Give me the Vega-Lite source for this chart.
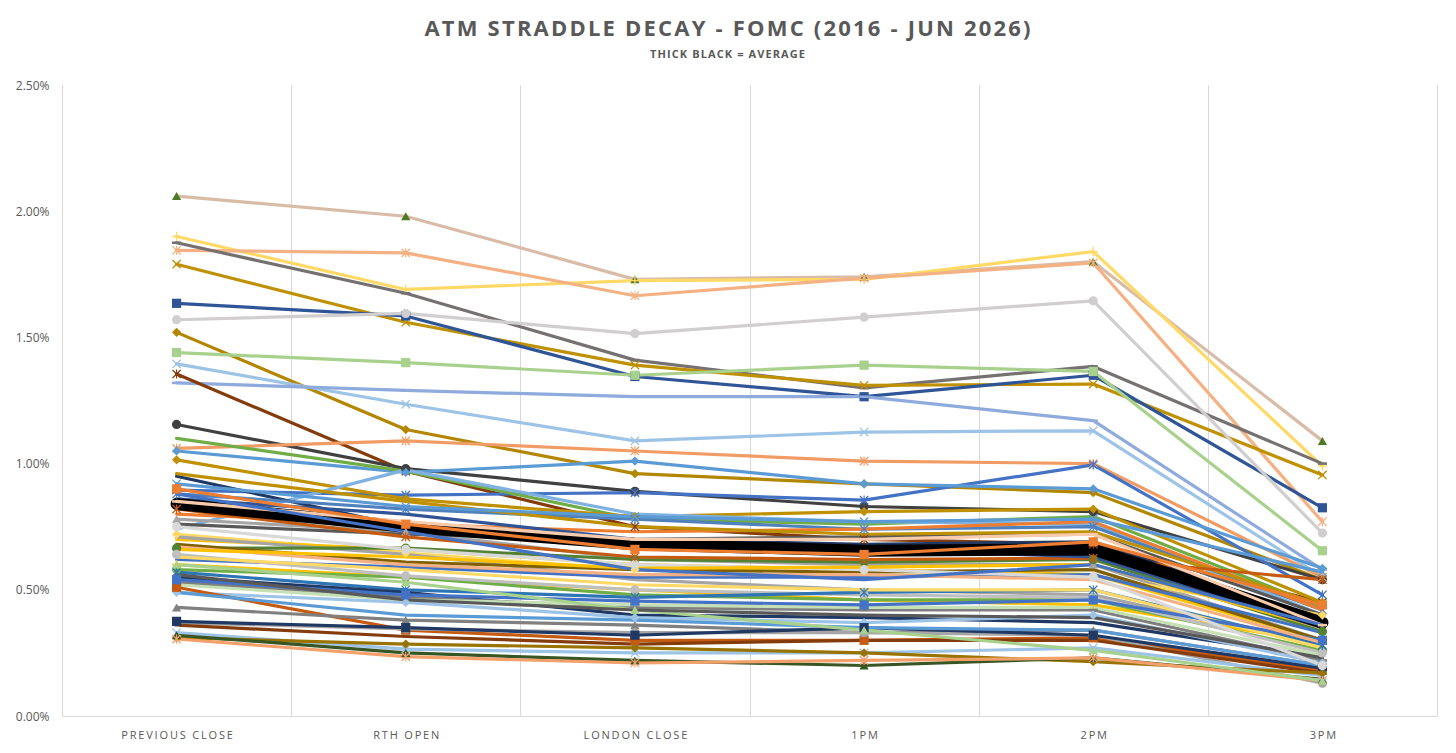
{
  "$schema": "https://vega.github.io/schema/vega-lite/v6.json",
  "width": 1375,
  "height": 631,
  "autosize": "none",
  "padding": {"left": 62, "top": 85, "right": 19, "bottom": 37},
  "background": "white",
  "title": {
    "text": {"expr": "join(split('ATM STRADDLE DECAY - FOMC (2016 - JUN 2026)', ''), '\u200a')"},
    "subtitle": {"expr": "join(split('THICK BLACK = AVERAGE', ''), '\u200a')"},
    "anchor": "middle",
    "dx": -22,
    "offset": 18,
    "font": "Open Sans",
    "fontSize": 22,
    "fontWeight": "bold",
    "color": "#595959",
    "subtitleFont": "Open Sans",
    "subtitleFontSize": 11,
    "subtitleFontWeight": "bold",
    "subtitleColor": "#595959",
    "subtitlePadding": 8
  },
  "data": {
    "values": [
      {"s": "S01", "t": "PREVIOUS CLOSE", "v": 2.06}, {"s": "S01", "t": "RTH OPEN", "v": 1.98}, {"s": "S01", "t": "LONDON CLOSE", "v": 1.73}, {"s": "S01", "t": "1PM", "v": 1.74}, {"s": "S01", "t": "2PM", "v": 1.80}, {"s": "S01", "t": "3PM", "v": 1.09},
      {"s": "S02", "t": "PREVIOUS CLOSE", "v": 1.90}, {"s": "S02", "t": "RTH OPEN", "v": 1.69}, {"s": "S02", "t": "LONDON CLOSE", "v": 1.725}, {"s": "S02", "t": "1PM", "v": 1.73}, {"s": "S02", "t": "2PM", "v": 1.84}, {"s": "S02", "t": "3PM", "v": 0.99},
      {"s": "S03", "t": "PREVIOUS CLOSE", "v": 1.845}, {"s": "S03", "t": "RTH OPEN", "v": 1.835}, {"s": "S03", "t": "LONDON CLOSE", "v": 1.665}, {"s": "S03", "t": "1PM", "v": 1.735}, {"s": "S03", "t": "2PM", "v": 1.795}, {"s": "S03", "t": "3PM", "v": 0.77},
      {"s": "S04", "t": "PREVIOUS CLOSE", "v": 1.875}, {"s": "S04", "t": "RTH OPEN", "v": 1.675}, {"s": "S04", "t": "LONDON CLOSE", "v": 1.41}, {"s": "S04", "t": "1PM", "v": 1.30}, {"s": "S04", "t": "2PM", "v": 1.385}, {"s": "S04", "t": "3PM", "v": 1.00},
      {"s": "S05", "t": "PREVIOUS CLOSE", "v": 1.79}, {"s": "S05", "t": "RTH OPEN", "v": 1.56}, {"s": "S05", "t": "LONDON CLOSE", "v": 1.39}, {"s": "S05", "t": "1PM", "v": 1.31}, {"s": "S05", "t": "2PM", "v": 1.315}, {"s": "S05", "t": "3PM", "v": 0.955},
      {"s": "S06", "t": "PREVIOUS CLOSE", "v": 1.635}, {"s": "S06", "t": "RTH OPEN", "v": 1.585}, {"s": "S06", "t": "LONDON CLOSE", "v": 1.345}, {"s": "S06", "t": "1PM", "v": 1.265}, {"s": "S06", "t": "2PM", "v": 1.35}, {"s": "S06", "t": "3PM", "v": 0.825},
      {"s": "S07", "t": "PREVIOUS CLOSE", "v": 1.57}, {"s": "S07", "t": "RTH OPEN", "v": 1.595}, {"s": "S07", "t": "LONDON CLOSE", "v": 1.515}, {"s": "S07", "t": "1PM", "v": 1.58}, {"s": "S07", "t": "2PM", "v": 1.645}, {"s": "S07", "t": "3PM", "v": 0.725},
      {"s": "S08", "t": "PREVIOUS CLOSE", "v": 1.52}, {"s": "S08", "t": "RTH OPEN", "v": 1.135}, {"s": "S08", "t": "LONDON CLOSE", "v": 0.96}, {"s": "S08", "t": "1PM", "v": 0.92}, {"s": "S08", "t": "2PM", "v": 0.885}, {"s": "S08", "t": "3PM", "v": 0.54},
      {"s": "S09", "t": "PREVIOUS CLOSE", "v": 1.44}, {"s": "S09", "t": "RTH OPEN", "v": 1.40}, {"s": "S09", "t": "LONDON CLOSE", "v": 1.35}, {"s": "S09", "t": "1PM", "v": 1.39}, {"s": "S09", "t": "2PM", "v": 1.365}, {"s": "S09", "t": "3PM", "v": 0.655},
      {"s": "S10", "t": "PREVIOUS CLOSE", "v": 1.395}, {"s": "S10", "t": "RTH OPEN", "v": 1.235}, {"s": "S10", "t": "LONDON CLOSE", "v": 1.09}, {"s": "S10", "t": "1PM", "v": 1.125}, {"s": "S10", "t": "2PM", "v": 1.13}, {"s": "S10", "t": "3PM", "v": 0.55},
      {"s": "S11", "t": "PREVIOUS CLOSE", "v": 1.32}, {"s": "S11", "t": "RTH OPEN", "v": 1.29}, {"s": "S11", "t": "LONDON CLOSE", "v": 1.265}, {"s": "S11", "t": "1PM", "v": 1.265}, {"s": "S11", "t": "2PM", "v": 1.17}, {"s": "S11", "t": "3PM", "v": 0.58},
      {"s": "S12", "t": "PREVIOUS CLOSE", "v": 1.355}, {"s": "S12", "t": "RTH OPEN", "v": 0.97}, {"s": "S12", "t": "LONDON CLOSE", "v": 0.75}, {"s": "S12", "t": "1PM", "v": 0.70}, {"s": "S12", "t": "2PM", "v": 0.68}, {"s": "S12", "t": "3PM", "v": 0.45},
      {"s": "S13", "t": "PREVIOUS CLOSE", "v": 1.155}, {"s": "S13", "t": "RTH OPEN", "v": 0.98}, {"s": "S13", "t": "LONDON CLOSE", "v": 0.89}, {"s": "S13", "t": "1PM", "v": 0.83}, {"s": "S13", "t": "2PM", "v": 0.81}, {"s": "S13", "t": "3PM", "v": 0.54},
      {"s": "S14", "t": "PREVIOUS CLOSE", "v": 1.06}, {"s": "S14", "t": "RTH OPEN", "v": 1.09}, {"s": "S14", "t": "LONDON CLOSE", "v": 1.05}, {"s": "S14", "t": "1PM", "v": 1.01}, {"s": "S14", "t": "2PM", "v": 1.00}, {"s": "S14", "t": "3PM", "v": 0.55},
      {"s": "S15", "t": "PREVIOUS CLOSE", "v": 0.895}, {"s": "S15", "t": "RTH OPEN", "v": 0.875}, {"s": "S15", "t": "LONDON CLOSE", "v": 0.885}, {"s": "S15", "t": "1PM", "v": 0.855}, {"s": "S15", "t": "2PM", "v": 0.995}, {"s": "S15", "t": "3PM", "v": 0.48},
      {"s": "S16", "t": "PREVIOUS CLOSE", "v": 1.05}, {"s": "S16", "t": "RTH OPEN", "v": 0.965}, {"s": "S16", "t": "LONDON CLOSE", "v": 1.01}, {"s": "S16", "t": "1PM", "v": 0.92}, {"s": "S16", "t": "2PM", "v": 0.90}, {"s": "S16", "t": "3PM", "v": 0.585},
      {"s": "S17", "t": "PREVIOUS CLOSE", "v": 1.10}, {"s": "S17", "t": "RTH OPEN", "v": 0.97}, {"s": "S17", "t": "LONDON CLOSE", "v": 0.78}, {"s": "S17", "t": "1PM", "v": 0.76}, {"s": "S17", "t": "2PM", "v": 0.79}, {"s": "S17", "t": "3PM", "v": 0.43},
      {"s": "S18", "t": "PREVIOUS CLOSE", "v": 1.015}, {"s": "S18", "t": "RTH OPEN", "v": 0.86}, {"s": "S18", "t": "LONDON CLOSE", "v": 0.79}, {"s": "S18", "t": "1PM", "v": 0.81}, {"s": "S18", "t": "2PM", "v": 0.82}, {"s": "S18", "t": "3PM", "v": 0.45},
      {"s": "S19", "t": "PREVIOUS CLOSE", "v": 0.74}, {"s": "S19", "t": "RTH OPEN", "v": 0.975}, {"s": "S19", "t": "LONDON CLOSE", "v": 0.80}, {"s": "S19", "t": "1PM", "v": 0.77}, {"s": "S19", "t": "2PM", "v": 0.76}, {"s": "S19", "t": "3PM", "v": 0.40},
      {"s": "S20", "t": "PREVIOUS CLOSE", "v": 0.95}, {"s": "S20", "t": "RTH OPEN", "v": 0.75}, {"s": "S20", "t": "LONDON CLOSE", "v": 0.70}, {"s": "S20", "t": "1PM", "v": 0.68}, {"s": "S20", "t": "2PM", "v": 0.69}, {"s": "S20", "t": "3PM", "v": 0.38},
      {"s": "S21", "t": "PREVIOUS CLOSE", "v": 0.88}, {"s": "S21", "t": "RTH OPEN", "v": 0.82}, {"s": "S21", "t": "LONDON CLOSE", "v": 0.78}, {"s": "S21", "t": "1PM", "v": 0.74}, {"s": "S21", "t": "2PM", "v": 0.75}, {"s": "S21", "t": "3PM", "v": 0.42},
      {"s": "S22", "t": "PREVIOUS CLOSE", "v": 0.78}, {"s": "S22", "t": "RTH OPEN", "v": 0.73}, {"s": "S22", "t": "LONDON CLOSE", "v": 0.62}, {"s": "S22", "t": "1PM", "v": 0.60}, {"s": "S22", "t": "2PM", "v": 0.60}, {"s": "S22", "t": "3PM", "v": 0.30},
      {"s": "S23", "t": "PREVIOUS CLOSE", "v": 0.80}, {"s": "S23", "t": "RTH OPEN", "v": 0.76}, {"s": "S23", "t": "LONDON CLOSE", "v": 0.73}, {"s": "S23", "t": "1PM", "v": 0.74}, {"s": "S23", "t": "2PM", "v": 0.77}, {"s": "S23", "t": "3PM", "v": 0.42},
      {"s": "S24", "t": "PREVIOUS CLOSE", "v": 0.76}, {"s": "S24", "t": "RTH OPEN", "v": 0.72}, {"s": "S24", "t": "LONDON CLOSE", "v": 0.70}, {"s": "S24", "t": "1PM", "v": 0.71}, {"s": "S24", "t": "2PM", "v": 0.72}, {"s": "S24", "t": "3PM", "v": 0.40},
      {"s": "S25", "t": "PREVIOUS CLOSE", "v": 0.72}, {"s": "S25", "t": "RTH OPEN", "v": 0.645}, {"s": "S25", "t": "LONDON CLOSE", "v": 0.58}, {"s": "S25", "t": "1PM", "v": 0.575}, {"s": "S25", "t": "2PM", "v": 0.555}, {"s": "S25", "t": "3PM", "v": 0.40},
      {"s": "S26", "t": "PREVIOUS CLOSE", "v": 0.70}, {"s": "S26", "t": "RTH OPEN", "v": 0.66}, {"s": "S26", "t": "LONDON CLOSE", "v": 0.60}, {"s": "S26", "t": "1PM", "v": 0.58}, {"s": "S26", "t": "2PM", "v": 0.56}, {"s": "S26", "t": "3PM", "v": 0.30},
      {"s": "S27", "t": "PREVIOUS CLOSE", "v": 0.71}, {"s": "S27", "t": "RTH OPEN", "v": 0.64}, {"s": "S27", "t": "LONDON CLOSE", "v": 0.54}, {"s": "S27", "t": "1PM", "v": 0.50}, {"s": "S27", "t": "2PM", "v": 0.48}, {"s": "S27", "t": "3PM", "v": 0.28},
      {"s": "S28", "t": "PREVIOUS CLOSE", "v": 0.665}, {"s": "S28", "t": "RTH OPEN", "v": 0.665}, {"s": "S28", "t": "LONDON CLOSE", "v": 0.62}, {"s": "S28", "t": "1PM", "v": 0.61}, {"s": "S28", "t": "2PM", "v": 0.62}, {"s": "S28", "t": "3PM", "v": 0.335},
      {"s": "S29", "t": "PREVIOUS CLOSE", "v": 0.68}, {"s": "S29", "t": "RTH OPEN", "v": 0.61}, {"s": "S29", "t": "LONDON CLOSE", "v": 0.58}, {"s": "S29", "t": "1PM", "v": 0.57}, {"s": "S29", "t": "2PM", "v": 0.58}, {"s": "S29", "t": "3PM", "v": 0.30},
      {"s": "S30", "t": "PREVIOUS CLOSE", "v": 0.60}, {"s": "S30", "t": "RTH OPEN", "v": 0.55}, {"s": "S30", "t": "LONDON CLOSE", "v": 0.50}, {"s": "S30", "t": "1PM", "v": 0.46}, {"s": "S30", "t": "2PM", "v": 0.44}, {"s": "S30", "t": "3PM", "v": 0.29},
      {"s": "S31", "t": "PREVIOUS CLOSE", "v": 0.58}, {"s": "S31", "t": "RTH OPEN", "v": 0.55}, {"s": "S31", "t": "LONDON CLOSE", "v": 0.48}, {"s": "S31", "t": "1PM", "v": 0.46}, {"s": "S31", "t": "2PM", "v": 0.46}, {"s": "S31", "t": "3PM", "v": 0.26},
      {"s": "S32", "t": "PREVIOUS CLOSE", "v": 0.62}, {"s": "S32", "t": "RTH OPEN", "v": 0.59}, {"s": "S32", "t": "LONDON CLOSE", "v": 0.55}, {"s": "S32", "t": "1PM", "v": 0.55}, {"s": "S32", "t": "2PM", "v": 0.56}, {"s": "S32", "t": "3PM", "v": 0.33},
      {"s": "S33", "t": "PREVIOUS CLOSE", "v": 0.64}, {"s": "S33", "t": "RTH OPEN", "v": 0.555}, {"s": "S33", "t": "LONDON CLOSE", "v": 0.50}, {"s": "S33", "t": "1PM", "v": 0.48}, {"s": "S33", "t": "2PM", "v": 0.47}, {"s": "S33", "t": "3PM", "v": 0.25},
      {"s": "S34", "t": "PREVIOUS CLOSE", "v": 0.57}, {"s": "S34", "t": "RTH OPEN", "v": 0.50}, {"s": "S34", "t": "LONDON CLOSE", "v": 0.47}, {"s": "S34", "t": "1PM", "v": 0.49}, {"s": "S34", "t": "2PM", "v": 0.50}, {"s": "S34", "t": "3PM", "v": 0.28},
      {"s": "S35", "t": "PREVIOUS CLOSE", "v": 0.55}, {"s": "S35", "t": "RTH OPEN", "v": 0.49}, {"s": "S35", "t": "LONDON CLOSE", "v": 0.40}, {"s": "S35", "t": "1PM", "v": 0.39}, {"s": "S35", "t": "2PM", "v": 0.37}, {"s": "S35", "t": "3PM", "v": 0.23},
      {"s": "S36", "t": "PREVIOUS CLOSE", "v": 0.53}, {"s": "S36", "t": "RTH OPEN", "v": 0.47}, {"s": "S36", "t": "LONDON CLOSE", "v": 0.43}, {"s": "S36", "t": "1PM", "v": 0.42}, {"s": "S36", "t": "2PM", "v": 0.42}, {"s": "S36", "t": "3PM", "v": 0.22},
      {"s": "S37", "t": "PREVIOUS CLOSE", "v": 0.49}, {"s": "S37", "t": "RTH OPEN", "v": 0.45}, {"s": "S37", "t": "LONDON CLOSE", "v": 0.39}, {"s": "S37", "t": "1PM", "v": 0.37}, {"s": "S37", "t": "2PM", "v": 0.40}, {"s": "S37", "t": "3PM", "v": 0.21},
      {"s": "S38", "t": "PREVIOUS CLOSE", "v": 0.52}, {"s": "S38", "t": "RTH OPEN", "v": 0.46}, {"s": "S38", "t": "LONDON CLOSE", "v": 0.44}, {"s": "S38", "t": "1PM", "v": 0.43}, {"s": "S38", "t": "2PM", "v": 0.43}, {"s": "S38", "t": "3PM", "v": 0.24},
      {"s": "S39", "t": "PREVIOUS CLOSE", "v": 0.51}, {"s": "S39", "t": "RTH OPEN", "v": 0.34}, {"s": "S39", "t": "LONDON CLOSE", "v": 0.30}, {"s": "S39", "t": "1PM", "v": 0.30}, {"s": "S39", "t": "2PM", "v": 0.31}, {"s": "S39", "t": "3PM", "v": 0.18},
      {"s": "S40", "t": "PREVIOUS CLOSE", "v": 0.43}, {"s": "S40", "t": "RTH OPEN", "v": 0.38}, {"s": "S40", "t": "LONDON CLOSE", "v": 0.36}, {"s": "S40", "t": "1PM", "v": 0.33}, {"s": "S40", "t": "2PM", "v": 0.34}, {"s": "S40", "t": "3PM", "v": 0.20},
      {"s": "S41", "t": "PREVIOUS CLOSE", "v": 0.37}, {"s": "S41", "t": "RTH OPEN", "v": 0.345}, {"s": "S41", "t": "LONDON CLOSE", "v": 0.33}, {"s": "S41", "t": "1PM", "v": 0.33}, {"s": "S41", "t": "2PM", "v": 0.32}, {"s": "S41", "t": "3PM", "v": 0.13},
      {"s": "S42", "t": "PREVIOUS CLOSE", "v": 0.375}, {"s": "S42", "t": "RTH OPEN", "v": 0.35}, {"s": "S42", "t": "LONDON CLOSE", "v": 0.32}, {"s": "S42", "t": "1PM", "v": 0.35}, {"s": "S42", "t": "2PM", "v": 0.32}, {"s": "S42", "t": "3PM", "v": 0.19},
      {"s": "S43", "t": "PREVIOUS CLOSE", "v": 0.36}, {"s": "S43", "t": "RTH OPEN", "v": 0.315}, {"s": "S43", "t": "LONDON CLOSE", "v": 0.285}, {"s": "S43", "t": "1PM", "v": 0.30}, {"s": "S43", "t": "2PM", "v": 0.30}, {"s": "S43", "t": "3PM", "v": 0.17},
      {"s": "S44", "t": "PREVIOUS CLOSE", "v": 0.33}, {"s": "S44", "t": "RTH OPEN", "v": 0.265}, {"s": "S44", "t": "LONDON CLOSE", "v": 0.25}, {"s": "S44", "t": "1PM", "v": 0.25}, {"s": "S44", "t": "2PM", "v": 0.27}, {"s": "S44", "t": "3PM", "v": 0.16},
      {"s": "S45", "t": "PREVIOUS CLOSE", "v": 0.31}, {"s": "S45", "t": "RTH OPEN", "v": 0.285}, {"s": "S45", "t": "LONDON CLOSE", "v": 0.27}, {"s": "S45", "t": "1PM", "v": 0.25}, {"s": "S45", "t": "2PM", "v": 0.215}, {"s": "S45", "t": "3PM", "v": 0.17},
      {"s": "S46", "t": "PREVIOUS CLOSE", "v": 0.32}, {"s": "S46", "t": "RTH OPEN", "v": 0.25}, {"s": "S46", "t": "LONDON CLOSE", "v": 0.22}, {"s": "S46", "t": "1PM", "v": 0.20}, {"s": "S46", "t": "2PM", "v": 0.23}, {"s": "S46", "t": "3PM", "v": 0.145},
      {"s": "S47", "t": "PREVIOUS CLOSE", "v": 0.305}, {"s": "S47", "t": "RTH OPEN", "v": 0.235}, {"s": "S47", "t": "LONDON CLOSE", "v": 0.21}, {"s": "S47", "t": "1PM", "v": 0.22}, {"s": "S47", "t": "2PM", "v": 0.23}, {"s": "S47", "t": "3PM", "v": 0.14},
      {"s": "S48", "t": "PREVIOUS CLOSE", "v": 0.49}, {"s": "S48", "t": "RTH OPEN", "v": 0.40}, {"s": "S48", "t": "LONDON CLOSE", "v": 0.38}, {"s": "S48", "t": "1PM", "v": 0.35}, {"s": "S48", "t": "2PM", "v": 0.34}, {"s": "S48", "t": "3PM", "v": 0.20},
      {"s": "S49", "t": "PREVIOUS CLOSE", "v": 0.63}, {"s": "S49", "t": "RTH OPEN", "v": 0.58}, {"s": "S49", "t": "LONDON CLOSE", "v": 0.52}, {"s": "S49", "t": "1PM", "v": 0.50}, {"s": "S49", "t": "2PM", "v": 0.50}, {"s": "S49", "t": "3PM", "v": 0.27},
      {"s": "S50", "t": "PREVIOUS CLOSE", "v": 0.54}, {"s": "S50", "t": "RTH OPEN", "v": 0.48}, {"s": "S50", "t": "LONDON CLOSE", "v": 0.455}, {"s": "S50", "t": "1PM", "v": 0.44}, {"s": "S50", "t": "2PM", "v": 0.46}, {"s": "S50", "t": "3PM", "v": 0.30},
      {"s": "S51", "t": "PREVIOUS CLOSE", "v": 0.60}, {"s": "S51", "t": "RTH OPEN", "v": 0.53}, {"s": "S51", "t": "LONDON CLOSE", "v": 0.42}, {"s": "S51", "t": "1PM", "v": 0.34}, {"s": "S51", "t": "2PM", "v": 0.26}, {"s": "S51", "t": "3PM", "v": 0.14},
      {"s": "S52", "t": "PREVIOUS CLOSE", "v": 0.56}, {"s": "S52", "t": "RTH OPEN", "v": 0.46}, {"s": "S52", "t": "LONDON CLOSE", "v": 0.42}, {"s": "S52", "t": "1PM", "v": 0.40}, {"s": "S52", "t": "2PM", "v": 0.39}, {"s": "S52", "t": "3PM", "v": 0.23},
      {"s": "S53", "t": "PREVIOUS CLOSE", "v": 0.67}, {"s": "S53", "t": "RTH OPEN", "v": 0.60}, {"s": "S53", "t": "LONDON CLOSE", "v": 0.56}, {"s": "S53", "t": "1PM", "v": 0.56}, {"s": "S53", "t": "2PM", "v": 0.54}, {"s": "S53", "t": "3PM", "v": 0.29},
      {"s": "S54", "t": "PREVIOUS CLOSE", "v": 0.75}, {"s": "S54", "t": "RTH OPEN", "v": 0.66}, {"s": "S54", "t": "LONDON CLOSE", "v": 0.60}, {"s": "S54", "t": "1PM", "v": 0.58}, {"s": "S54", "t": "2PM", "v": 0.55}, {"s": "S54", "t": "3PM", "v": 0.20},
      {"s": "S55", "t": "PREVIOUS CLOSE", "v": 0.66}, {"s": "S55", "t": "RTH OPEN", "v": 0.63}, {"s": "S55", "t": "LONDON CLOSE", "v": 0.585}, {"s": "S55", "t": "1PM", "v": 0.59}, {"s": "S55", "t": "2PM", "v": 0.60}, {"s": "S55", "t": "3PM", "v": 0.35},
      {"s": "S56", "t": "PREVIOUS CLOSE", "v": 0.96}, {"s": "S56", "t": "RTH OPEN", "v": 0.85}, {"s": "S56", "t": "LONDON CLOSE", "v": 0.75}, {"s": "S56", "t": "1PM", "v": 0.72}, {"s": "S56", "t": "2PM", "v": 0.73}, {"s": "S56", "t": "3PM", "v": 0.44},
      {"s": "S57", "t": "PREVIOUS CLOSE", "v": 0.82}, {"s": "S57", "t": "RTH OPEN", "v": 0.71}, {"s": "S57", "t": "LONDON CLOSE", "v": 0.63}, {"s": "S57", "t": "1PM", "v": 0.62}, {"s": "S57", "t": "2PM", "v": 0.625}, {"s": "S57", "t": "3PM", "v": 0.54},
      {"s": "S58", "t": "PREVIOUS CLOSE", "v": 0.86}, {"s": "S58", "t": "RTH OPEN", "v": 0.80}, {"s": "S58", "t": "LONDON CLOSE", "v": 0.70}, {"s": "S58", "t": "1PM", "v": 0.66}, {"s": "S58", "t": "2PM", "v": 0.63}, {"s": "S58", "t": "3PM", "v": 0.35},
      {"s": "Average", "t": "PREVIOUS CLOSE", "v": 0.84}, {"s": "Average", "t": "RTH OPEN", "v": 0.75}, {"s": "Average", "t": "LONDON CLOSE", "v": 0.68}, {"s": "Average", "t": "1PM", "v": 0.655}, {"s": "Average", "t": "2PM", "v": 0.66}, {"s": "Average", "t": "3PM", "v": 0.37},
      {"s": "S59", "t": "PREVIOUS CLOSE", "v": 0.85}, {"s": "S59", "t": "RTH OPEN", "v": 0.77}, {"s": "S59", "t": "LONDON CLOSE", "v": 0.70}, {"s": "S59", "t": "1PM", "v": 0.70}, {"s": "S59", "t": "2PM", "v": 0.72}, {"s": "S59", "t": "3PM", "v": 0.36},
      {"s": "S60", "t": "PREVIOUS CLOSE", "v": 0.92}, {"s": "S60", "t": "RTH OPEN", "v": 0.83}, {"s": "S60", "t": "LONDON CLOSE", "v": 0.79}, {"s": "S60", "t": "1PM", "v": 0.77}, {"s": "S60", "t": "2PM", "v": 0.78}, {"s": "S60", "t": "3PM", "v": 0.57},
      {"s": "S61", "t": "PREVIOUS CLOSE", "v": 0.90}, {"s": "S61", "t": "RTH OPEN", "v": 0.76}, {"s": "S61", "t": "LONDON CLOSE", "v": 0.66}, {"s": "S61", "t": "1PM", "v": 0.64}, {"s": "S61", "t": "2PM", "v": 0.69}, {"s": "S61", "t": "3PM", "v": 0.44},
      {"s": "S62", "t": "PREVIOUS CLOSE", "v": 0.88}, {"s": "S62", "t": "RTH OPEN", "v": 0.73}, {"s": "S62", "t": "LONDON CLOSE", "v": 0.58}, {"s": "S62", "t": "1PM", "v": 0.54}, {"s": "S62", "t": "2PM", "v": 0.60}, {"s": "S62", "t": "3PM", "v": 0.36}
    ]
  },
  "encoding": {
    "x": {
      "field": "t",
      "type": "ordinal",
      "sort": ["PREVIOUS CLOSE", "RTH OPEN", "LONDON CLOSE", "1PM", "2PM", "3PM"],
      "scale": {"type": "band", "paddingInner": 0, "paddingOuter": 0},
      "axis": {
        "title": null,
        "labelAngle": 0,
        "labelExpr": "join(split(datum.label, ''), '\u2009')",
        "labelFont": "Open Sans",
        "labelFontSize": 11,
        "labelColor": "#595959",
        "labelPadding": 13,
        "ticks": false,
        "grid": true,
        "gridColor": "#d9d9d9",
        "gridWidth": 1,
        "tickBand": "extent",
        "domainColor": "#d9d9d9"
      }
    },
    "y": {
      "field": "v",
      "type": "quantitative",
      "scale": {"domain": [0, 2.5]},
      "axis": {
        "title": null,
        "values": [0, 0.5, 1, 1.5, 2, 2.5],
        "labelExpr": "format(datum.value, '.2f') + '%'",
        "labelFont": "Open Sans",
        "labelFontSize": 12,
        "labelColor": "#595959",
        "labelPadding": 13,
        "ticks": false,
        "grid": false,
        "domainColor": "#d9d9d9"
      }
    }
  },
  "layer": [
    {
      "mark": {"type": "line", "strokeCap": "round", "strokeJoin": "round"},
      "encoding": {
        "color": {
          "field": "s",
          "type": "nominal",
          "legend": null,
          "scale": {
            "domain": ["S01","S02","S03","S04","S05","S06","S07","S08","S09","S10","S11","S12","S13","S14","S15","S16","S17","S18","S19","S20","S21","S22","S23","S24","S25","S26","S27","S28","S29","S30","S31","S32","S33","S34","S35","S36","S37","S38","S39","S40","S41","S42","S43","S44","S45","S46","S47","S48","S49","S50","S51","S52","S53","S54","S55","S56","S57","S58","Average","S59","S60","S61","S62"],
            "range": ["#D9BCA7","#FFD966","#F4B183","#767171","#BF9000","#2F5597","#D0CECE","#B38600","#A9D18E","#9DC3E6","#8FAADC","#843C0C","#404040","#F19C65","#4472C4","#5B9BD5","#70AD47","#BF9000","#7FB2E0","#203864","#4F81BD","#A5A5A5","#ED7D31","#595959","#FFD966","#FFC000","#A5A5A5","#548235","#7F6000","#FFC000","#70AD47","#4472C4","#BFBFBF","#2E75B6","#1F3864","#7F7F7F","#9DC3E6","#C5E0B4","#C55A11","#808080","#A6A6A6","#203864","#843C0C","#9DC3E6","#997300","#375623","#F4A06B","#5B9BD5","#FFD966","#4472C4","#A9D18E","#595959","#F4B183","#D9D9D9","#FFC000","#BF9000","#C55A11","#305496","#000000","#F8CBAD","#5B9BD5","#ED7D31","#4472C4"]
          }
        },
        "strokeWidth": {"condition": {"test": "datum.s === 'Average'", "value": 12}, "value": 3.2}
      }
    },
    {
      "mark": {"type": "point", "filled": true, "opacity": 1, "size": 85},
      "encoding": {
        "fill": {
          "field": "s",
          "type": "nominal",
          "legend": null,
          "scale": {
            "domain": ["S01","S02","S03","S04","S05","S06","S07","S08","S09","S10","S11","S12","S13","S14","S15","S16","S17","S18","S19","S20","S21","S22","S23","S24","S25","S26","S27","S28","S29","S30","S31","S32","S33","S34","S35","S36","S37","S38","S39","S40","S41","S42","S43","S44","S45","S46","S47","S48","S49","S50","S51","S52","S53","S54","S55","S56","S57","S58","Average","S59","S60","S61","S62"],
            "range": ["#4E7A27","#FFD966","#F4B183","#767171","#BF9000","#2F5597","#D0CECE","#B38600","#A9D18E","#9DC3E6","#8FAADC","#843C0C","#404040","#F19C65","#4472C4","#5B9BD5","#70AD47","#BF9000","#7FB2E0","#203864","#4F81BD","#A5A5A5","#ED7D31","#595959","#FFD966","#FFC000","#A5A5A5","#548235","#7F6000","#FFC000","#70AD47","#4472C4","#BFBFBF","#2E75B6","#1F3864","#7F7F7F","#9DC3E6","#C5E0B4","#C55A11","#808080","#A6A6A6","#203864","#843C0C","#9DC3E6","#997300","#375623","#F4A06B","#5B9BD5","#FFD966","#4472C4","#A9D18E","#595959","#F4B183","#D9D9D9","#FFC000","#BF9000","#C55A11","#305496","#000000","#F8CBAD","#5B9BD5","#ED7D31","#4472C4"]
          }
        },
        "shape": {
          "field": "s",
          "type": "nominal",
          "legend": null,
          "scale": {
            "domain": ["S01","S02","S03","S04","S05","S06","S07","S08","S09","S10","S11","S12","S13","S14","S15","S16","S17","S18","S19","S20","S21","S22","S23","S24","S25","S26","S27","S28","S29","S30","S31","S32","S33","S34","S35","S36","S37","S38","S39","S40","S41","S42","S43","S44","S45","S46","S47","S48","S49","S50","S51","S52","S53","S54","S55","S56","S57","S58","Average","S59","S60","S61","S62"],
            "range": [
              "triangle-up",
              "M-0.15,-1L0.15,-1L0.15,-0.15L1,-0.15L1,0.15L0.15,0.15L0.15,1L-0.15,1L-0.15,0.15L-1,0.15L-1,-0.15L-0.15,-0.15Z",
              "M-1,-0.8L-0.8,-1L0,-0.2L0.8,-1L1,-0.8L0.2,0L1,0.8L0.8,1L0,0.2L-0.8,1L-1,0.8L-0.2,0ZM-0.12,-1L0.12,-1L0.12,1L-0.12,1Z",
              "M-1,-0.28L1,-0.28L1,0.28L-1,0.28Z",
              "M-1,-0.8L-0.8,-1L0,-0.2L0.8,-1L1,-0.8L0.2,0L1,0.8L0.8,1L0,0.2L-0.8,1L-1,0.8L-0.2,0Z",
              "square",
              "circle",
              "diamond",
              "square",
              "M-1,-0.8L-0.8,-1L0,-0.2L0.8,-1L1,-0.8L0.2,0L1,0.8L0.8,1L0,0.2L-0.8,1L-1,0.8L-0.2,0Z",
              "M-1,-0.28L1,-0.28L1,0.28L-1,0.28Z",
              "M-1,-0.8L-0.8,-1L0,-0.2L0.8,-1L1,-0.8L0.2,0L1,0.8L0.8,1L0,0.2L-0.8,1L-1,0.8L-0.2,0ZM-0.12,-1L0.12,-1L0.12,1L-0.12,1Z",
              "circle",
              "M-1,-0.8L-0.8,-1L0,-0.2L0.8,-1L1,-0.8L0.2,0L1,0.8L0.8,1L0,0.2L-0.8,1L-1,0.8L-0.2,0ZM-0.12,-1L0.12,-1L0.12,1L-0.12,1Z",
              "M-1,-0.8L-0.8,-1L0,-0.2L0.8,-1L1,-0.8L0.2,0L1,0.8L0.8,1L0,0.2L-0.8,1L-1,0.8L-0.2,0ZM-0.12,-1L0.12,-1L0.12,1L-0.12,1Z",
              "diamond",
              "M0,0",
              "diamond",
              "M0,0",
              "M0,0",
              "M-1,-0.8L-0.8,-1L0,-0.2L0.8,-1L1,-0.8L0.2,0L1,0.8L0.8,1L0,0.2L-0.8,1L-1,0.8L-0.2,0ZM-0.12,-1L0.12,-1L0.12,1L-0.12,1Z",
              "triangle-up",
              "M0,0",
              "M0,0",
              "diamond",
              "M0,0",
              "M0,0",
              "circle",
              "M0,0",
              "M-0.15,-1L0.15,-1L0.15,-0.15L1,-0.15L1,0.15L0.15,0.15L0.15,1L-0.15,1L-0.15,0.15L-1,0.15L-1,-0.15L-0.15,-0.15Z",
              "circle",
              "M0,0",
              "circle",
              "M-1,-0.8L-0.8,-1L0,-0.2L0.8,-1L1,-0.8L0.2,0L1,0.8L0.8,1L0,0.2L-0.8,1L-1,0.8L-0.2,0ZM-0.12,-1L0.12,-1L0.12,1L-0.12,1Z",
              "M0,0",
              "M-1,-0.28L1,-0.28L1,0.28L-1,0.28Z",
              "diamond",
              "M0,0",
              "square",
              "triangle-up",
              "circle",
              "square",
              "M0,0",
              "M-1,-0.8L-0.8,-1L0,-0.2L0.8,-1L1,-0.8L0.2,0L1,0.8L0.8,1L0,0.2L-0.8,1L-1,0.8L-0.2,0Z",
              "diamond",
              "triangle-up",
              "M-1,-0.8L-0.8,-1L0,-0.2L0.8,-1L1,-0.8L0.2,0L1,0.8L0.8,1L0,0.2L-0.8,1L-1,0.8L-0.2,0ZM-0.12,-1L0.12,-1L0.12,1L-0.12,1Z",
              "M0,0",
              "M0,0",
              "square",
              "triangle-up",
              "M0,0",
              "M0,0",
              "circle",
              "M0,0",
              "M0,0",
              "M-1,-0.8L-0.8,-1L0,-0.2L0.8,-1L1,-0.8L0.2,0L1,0.8L0.8,1L0,0.2L-0.8,1L-1,0.8L-0.2,0ZM-0.12,-1L0.12,-1L0.12,1L-0.12,1Z",
              "M0,0",
              "M0,0",
              "M-1,-0.28L1,-0.28L1,0.28L-1,0.28Z",
              "M-1,-0.8L-0.8,-1L0,-0.2L0.8,-1L1,-0.8L0.2,0L1,0.8L0.8,1L0,0.2L-0.8,1L-1,0.8L-0.2,0Z",
              "square",
              "M0,0"
            ]
          }
        }
      }
    }
  ],
  "config": {"view": {"stroke": null}}
}
